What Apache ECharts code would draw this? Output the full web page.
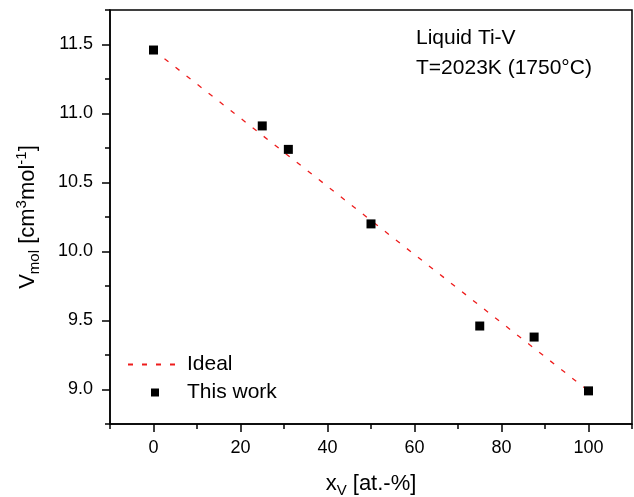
<!DOCTYPE html>
<html>
<head>
<meta charset="utf-8">
<script src="https://cdn.jsdelivr.net/npm/echarts@6/dist/echarts.min.js"></script>
<style>
	html, body { margin: 0; padding: 0; background: #fff; }
	#chart { width: 634px; height: 497px; }
</style>
</head>
<body>
<div id="chart"></div>
<script>
// measured points, x_V in at.-%, V_mol in cm3/mol
const xV = [0, 25, 31, 50, 75, 87.5, 100];
const vMol = [11.46, 10.91, 10.74, 10.20, 9.46, 9.38, 8.99];
// ideal (Vegard) line between the pure metals
const idealX = [0, 100];
const idealV = [11.46, 8.99];

const xLabels = [0, 20, 40, 60, 80, 100];
const yLabels = [9.0, 9.5, 10.0, 10.5, 11.0, 11.5];

const font = 'Liberation Sans, Arial, sans-serif';
const ink = '#000';

const chart = echarts.init(document.getElementById('chart'), null, {renderer: 'canvas'});

const nameRich = {
	n: {fontSize: 22, lineHeight: 28, fontFamily: font, color: ink},
	sub: {fontSize: 15, lineHeight: 15, verticalAlign: 'bottom', fontFamily: font, color: ink},
	sup: {fontSize: 15, lineHeight: 15, verticalAlign: 'top', fontFamily: font, color: ink},
};

// tick-only axis, used for the short ticks
function minorAxis(pos, min, max, interval) {
	return {
		type: 'value', position: pos, min: min, max: max, interval: interval,
		axisLine: {show: false, onZero: false},
		axisTick: {show: true, length: 5, lineStyle: {color: ink, width: 1.5}},
		axisLabel: {show: false},
		splitLine: {show: false},
	};
}

chart.setOption({
	animation: false,
	textStyle: {fontFamily: font},
	grid: {
		left: 110, top: 10, right: 2, bottom: 73,
		outerBoundsMode: 'none', containLabel: false,
		show: true, borderColor: ink, borderWidth: 1.5,
	},
	xAxis: [
		{
			type: 'value', position: 'bottom', min: -10, max: 110, interval: 10,
			axisLine: {show: true, onZero: false, lineStyle: {color: ink, width: 1.5}},
			axisTick: {show: true, length: 8, customValues: xLabels, lineStyle: {color: ink, width: 1.5}},
			axisLabel: {customValues: xLabels, fontSize: 18, color: ink, margin: 15, fontFamily: font},
			splitLine: {show: false},
			name: '{n|x}{sub|V}{n| [at.-%]}',
			nameLocation: 'middle', nameGap: 46,
			nameTextStyle: {rich: nameRich},
		},
		minorAxis('bottom', -10, 110, 10),
	],
	yAxis: [
		{
			type: 'value', position: 'left', min: 8.75, max: 11.75, interval: 0.25,
			axisLine: {show: true, onZero: false, lineStyle: {color: ink, width: 1.5}},
			axisTick: {show: true, length: 8, customValues: yLabels, lineStyle: {color: ink, width: 1.5}},
			axisLabel: {
				customValues: yLabels, fontSize: 18, color: ink, margin: 17, fontFamily: font,
				formatter: v => v.toFixed(1),
			},
			splitLine: {show: false},
			name: '{n|V}{sub|mol}{n| [cm}{sup|3}{n|mol}{sup|-1}{n|]}',
			nameLocation: 'middle', nameGap: 68, nameRotate: 90,
			nameTextStyle: {rich: nameRich},
		},
		minorAxis('left', 8.75, 11.75, 0.25),
	],
	legend: {
		orient: 'vertical',
		left: 127, top: 354, padding: 0,
		itemWidth: 54, itemHeight: 8, itemGap: 7,
		textStyle: {fontSize: 21, color: ink, fontFamily: font},
		data: [
			{name: 'Ideal', itemStyle: {opacity: 0}},
			{name: 'This work', icon: 'path://M0,0h10v10h-10z', itemStyle: {opacity: 1}},
		],
	},
	graphic: [{
		type: 'text', left: 416, top: 23,
		style: {
			text: 'Liquid Ti-V\nT=2023K (1750°C)',
			fontSize: 21, lineHeight: 30, fill: ink, fontFamily: font,
		},
	}],
	series: [
		{
			name: 'Ideal', type: 'line', symbol: 'none',
			data: idealX.map((x, i) => [x, idealV[i]]),
			lineStyle: {color: '#ee1c1c', width: 1.3, type: [5, 9]},
			itemStyle: {color: '#ee1c1c'},
			z: 2,
		},
		{
			name: 'This work', type: 'scatter', symbol: 'rect', symbolSize: 9,
			data: xV.map((x, i) => [x, vMol[i]]),
			itemStyle: {color: ink, opacity: 1},
			z: 3,
		},
	],
});
</script>
</body>
</html>
